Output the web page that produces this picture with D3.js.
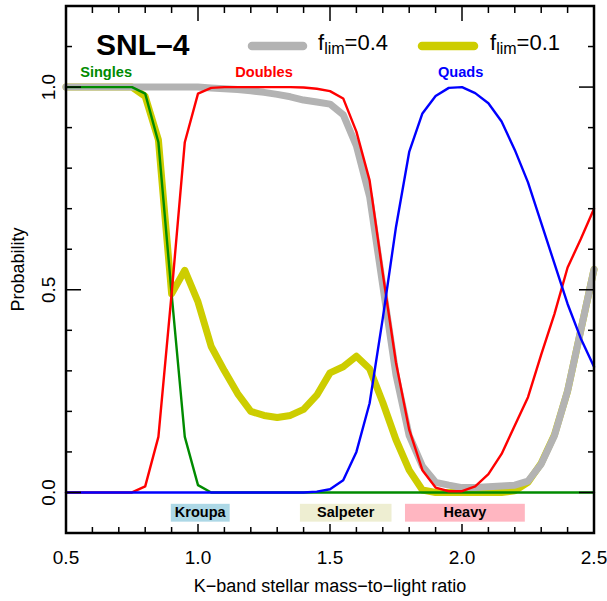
<!DOCTYPE html>
<html><head><meta charset="utf-8">
<script src="https://cdn.jsdelivr.net/npm/d3@7"></script>
<style>
html,body{margin:0;padding:0;background:#fff;}
svg{display:block;font-family:"Liberation Sans",Arial,Helvetica,sans-serif;}
</style></head>
<body>
<svg id="chart" width="607" height="601"></svg>
<script>
// ---- data ----
const mlRatio = [0.5,0.55,0.6,0.65,0.7,0.75,0.8,0.85,0.9,0.95,1.0,1.05,1.1,1.15,1.2,1.25,1.3,1.35,1.4,1.45,1.5,1.55,1.6,1.65,1.7,1.75,1.8,1.85,1.9,1.95,2.0,2.05,2.1,2.15,2.2,2.25,2.3,2.35,2.4,2.45,2.5];
const singles = [1,1,1,1,1,1,0.984,0.864,0.49,0.137,0.018,0,0,0,0,0,0,0,0,0,0,0,0,0,0,0,0,0,0,0,0,0,0,0,0,0,0,0,0,0,0];
const doubles = [0,0,0,0,0,0,0.015,0.137,0.49,0.864,0.984,0.998,1,1,1,1,1,1,0.999,0.996,0.99,0.972,0.89,0.77,0.54,0.32,0.155,0.055,0.012,0.003,0.003,0.015,0.045,0.095,0.165,0.235,0.34,0.44,0.555,0.625,0.70];
const quads = [0,0,0,0,0,0,0,0,0,0,0,0,0,0,0,0,0,0,0,0.002,0.008,0.03,0.1,0.22,0.43,0.655,0.84,0.935,0.978,0.998,1.0,0.985,0.96,0.915,0.845,0.765,0.665,0.565,0.465,0.38,0.31];
const flim04 = [1,1,1,1,1,1,1,1,1,1,1,0.998,0.996,0.994,0.991,0.987,0.982,0.976,0.968,0.963,0.958,0.932,0.855,0.73,0.51,0.29,0.14,0.065,0.025,0.018,0.012,0.012,0.014,0.016,0.018,0.028,0.07,0.14,0.25,0.4,0.55];
const flim01 = [1,1,1,1,1,1,0.977,0.87,0.49,0.548,0.47,0.36,0.3,0.244,0.2,0.19,0.185,0.19,0.205,0.24,0.295,0.31,0.336,0.305,0.222,0.13,0.055,0.006,0,0,0,0,0,0,0.004,0.025,0.072,0.142,0.25,0.4,0.55];
const imfNames = ["Kroupa","Salpeter","Heavy"];
const imfStart = [0.897,1.386,1.784];
const imfEnd = [1.12,1.733,2.238];
const imfColors = ["#add8e6","#eeeed2","#ffb6c1"];
const xTickLabels = ["0.5","1.0","1.5","2.0","2.5"];
const xMajor = [0.5,1.0,1.5,2.0,2.5];
const xMinor = [0.6,0.7,0.8,0.9,1.1,1.2,1.3,1.4,1.6,1.7,1.8,1.9,2.1,2.2,2.3,2.4];
const yTickLabels = ["0.0","0.5","1.0"];
const yMajor = [0,0.5,1.0];
const yMinor = [0.1,0.2,0.3,0.4,0.6,0.7,0.8,0.9,1.1];
const seriesLabels = [["Singles",0.652,"#008b00"],["Doubles",1.25,"#ff0000"],["Quads",1.995,"#0000ff"]];

// ---- layout ----
const svg = d3.select("#chart");
const L = 66, R = 594, T = 6, B = 533;
const x = d3.scaleLinear().domain([0.5,2.5]).range([L,R]);
const y = d3.scaleLinear().domain([-0.1,1.2]).range([B,T]);

// IMF boxes
const boxTop = -0.028, boxBot = -0.072;
imfNames.forEach((n,i)=>{
  svg.append("rect").attr("x",x(imfStart[i])).attr("y",y(boxTop))
    .attr("width",x(imfEnd[i])-x(imfStart[i])).attr("height",y(boxBot)-y(boxTop))
    .attr("fill",imfColors[i]);
  svg.append("text").attr("x",(x(imfStart[i])+x(imfEnd[i]))/2).attr("y",y(boxBot)-5)
    .attr("text-anchor","middle").attr("font-weight","bold").attr("font-size",14.5)
    .attr("fill","#000").text(n);
});

const pts = arr => arr.map((v,i)=>[mlRatio[i],v]);
const line = d3.line().x(d=>x(d[0])).y(d=>y(d[1]));
const plotG = svg.append("g");
function draw(arr,color,w){
  plotG.append("path").attr("d",line(pts(arr))).attr("fill","none")
    .attr("stroke",color).attr("stroke-width",w)
    .attr("stroke-linejoin","round").attr("stroke-linecap","round");
}
draw(flim01,"#cdcd00",7);
draw(flim04,"#b3b3b3",7);
draw(singles,"#008b00",2.4);
draw(doubles,"#ff0000",2.4);
draw(quads,"#0000ff",2.4);

// series labels
seriesLabels.forEach(s=>{
  svg.append("text").attr("x",x(s[1])).attr("y",77).attr("text-anchor","middle")
    .attr("font-weight","bold").attr("font-size",14.6).attr("fill",s[2]).text(s[0]);
});

// title & legend
svg.append("text").attr("x",96).attr("y",55).attr("font-weight","bold").attr("font-size",30).text("SNL\u20134");
function legend(x0,x1,tx,color,label){
  svg.append("line").attr("x1",x0).attr("x2",x1).attr("y1",46).attr("y2",46)
    .attr("stroke",color).attr("stroke-width",8.5).attr("stroke-linecap","round");
  const t = svg.append("text").attr("x",tx).attr("y",50).attr("font-size",22);
  t.append("tspan").text("f");
  t.append("tspan").attr("font-size",16).attr("dy",4).text("lim");
  t.append("tspan").attr("dy",-4).text("="+label);
}
legend(252,303,318,"#b3b3b3","0.4");
legend(422,474,490,"#cdcd00","0.1");

// ticks (inward)
const tk = svg.append("g").attr("stroke","#000").attr("stroke-width",1.5);
xMajor.forEach(v=>{
  tk.append("line").attr("x1",x(v)).attr("x2",x(v)).attr("y1",B).attr("y2",B-9);
  tk.append("line").attr("x1",x(v)).attr("x2",x(v)).attr("y1",T).attr("y2",T+15);
});
xMinor.forEach(v=>{
  tk.append("line").attr("x1",x(v)).attr("x2",x(v)).attr("y1",B).attr("y2",B-6);
  tk.append("line").attr("x1",x(v)).attr("x2",x(v)).attr("y1",T).attr("y2",T+7);
});
yMajor.forEach(v=>{
  tk.append("line").attr("y1",y(v)).attr("y2",y(v)).attr("x1",L).attr("x2",L+15);
  tk.append("line").attr("y1",y(v)).attr("y2",y(v)).attr("x1",R).attr("x2",R-15);
});
yMinor.forEach(v=>{
  tk.append("line").attr("y1",y(v)).attr("y2",y(v)).attr("x1",L).attr("x2",L+6);
  tk.append("line").attr("y1",y(v)).attr("y2",y(v)).attr("x1",R).attr("x2",R-6);
});

// frame
svg.append("rect").attr("x",L).attr("y",T).attr("width",R-L).attr("height",B-T)
  .attr("fill","none").attr("stroke","#000").attr("stroke-width",2.5);

// tick labels
xMajor.forEach((v,i)=>{
  svg.append("text").attr("x",x(v)).attr("y",564).attr("text-anchor","middle")
    .attr("font-size",19).text(xTickLabels[i]);
});
yMajor.forEach((v,i)=>{
  svg.append("text").attr("transform",`translate(55,${y(v)}) rotate(-90)`)
    .attr("text-anchor","middle").attr("font-size",19).text(yTickLabels[i]);
});

// axis titles
svg.append("text").attr("x",(L+R)/2).attr("y",592).attr("text-anchor","middle")
  .attr("font-size",18).text("K\u2212band stellar mass\u2212to\u2212light ratio");
svg.append("text").attr("transform",`translate(24,${(T+B)/2}) rotate(-90)`)
  .attr("text-anchor","middle").attr("font-size",18).text("Probability");
</script>
</body></html>
